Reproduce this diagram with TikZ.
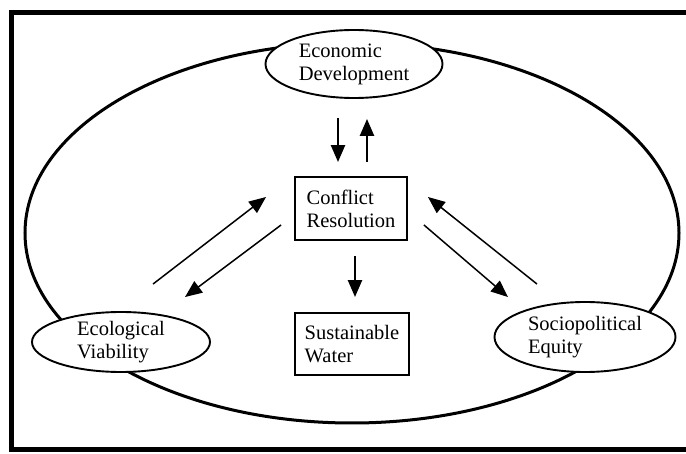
\documentclass[tikz,border=0pt]{standalone}
\usepackage{fontspec}
\setmainfont{Liberation Serif}
\usetikzlibrary{arrows.meta,shapes.geometric}
\tikzset{
  oval/.style={ellipse, draw, line width=1.9pt, fill=white, inner sep=0pt,
    align=left, font=\fontsize{20.5}{23}\selectfont},
  box/.style={rectangle, draw, line width=1.9pt, fill=white, inner sep=0pt,
    align=left, font=\fontsize{20.5}{23}\selectfont},
  arr/.style={line width=1.5pt, -{Triangle[length=17pt,width=14pt]}},
  thickarr/.style={line width=2.4pt, -{Triangle[length=17pt,width=14pt]}}
}
\begin{document}
\begin{tikzpicture}[x=1pt,y=-1pt]
\useasboundingbox (0,0) rectangle (686,454);
\fill[white] (0,0) rectangle (686,454);
% frame
\draw[line width=5pt] (690,13) -- (11,13) -- (11,450) -- (690,450);
% big ellipse
\draw[line width=3pt] (352,233) ellipse [x radius=327, y radius=190];
% nodes
\node[oval, minimum width=177pt, minimum height=68pt] (econ) at (354,64) {Economic\\Development};
\node[oval, minimum width=178pt, minimum height=60pt] (eco) at (121,342) {Ecological\\Viability};
\node[oval, minimum width=181pt, minimum height=70pt] (socio) at (585,337) {Sociopolitical\\Equity};
\node[box, minimum width=112pt, minimum height=63pt] (conf) at (351,208.5) {Conflict\\Resolution};
\node[box, minimum width=114pt, minimum height=62pt] (sust) at (352,344) {Sustainable\\Water};
% arrows
\draw[thickarr] ([shift={(-16,19)}]econ.south) -- ([shift={(-13,-14)}]conf.north);
\draw[thickarr] ([shift={(16,-14)}]conf.north) -- ([shift={(13,20)}]econ.south);
\draw[arr] ([shift={(32,-27)}]eco.north) -- ([shift={(-28,-11.5)}]conf.west);
\draw[arr] ([shift={(-13,16.5)}]conf.west) -- ([shift={(64,-14)}]eco.north);
\draw[arr] ([shift={(16,16.5)}]conf.east) -- ([shift={(-77,-4)}]socio.north);
\draw[arr] ([shift={(-48,-17)}]socio.north) -- ([shift={(20,-11.5)}]conf.east);
\draw[thickarr] ([shift={(4,15)}]conf.south) -- ([shift={(3,-15)}]sust.north);
\end{tikzpicture}
\end{document}
